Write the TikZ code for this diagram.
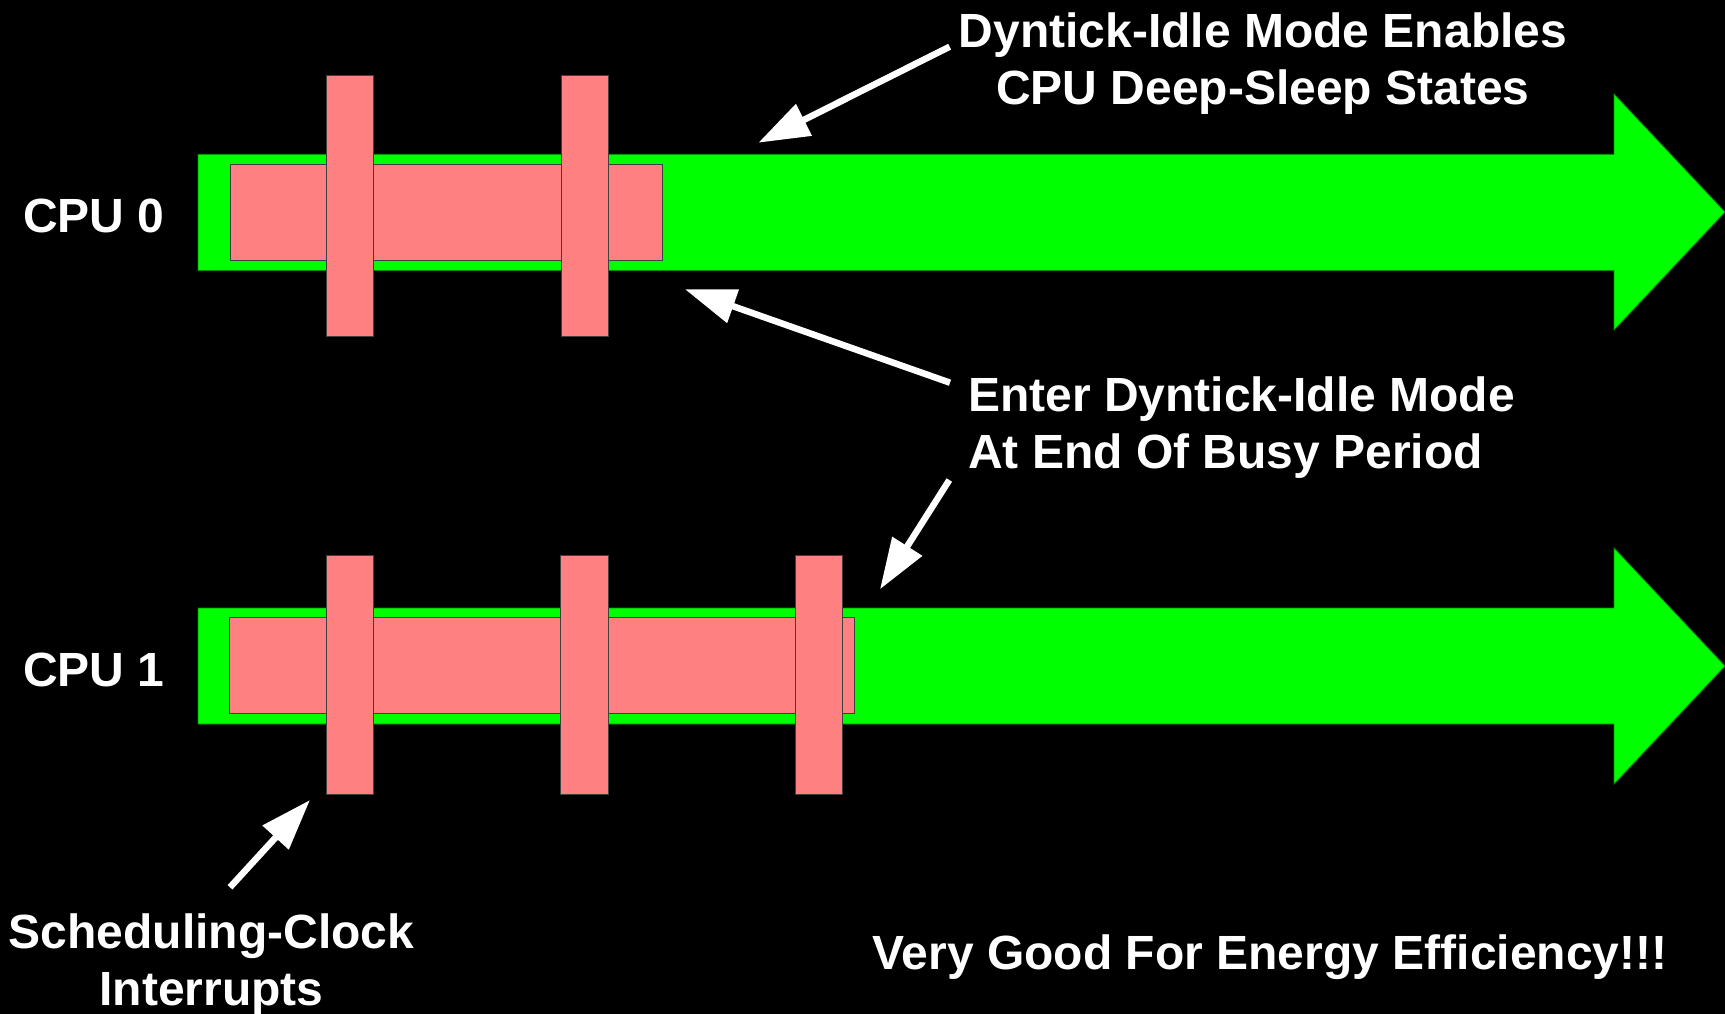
\documentclass[tikz,border=0pt]{standalone}
\usepackage{fontspec}
\setmainfont{Liberation Sans}
\usetikzlibrary{arrows.meta}
\definecolor{busyred}{HTML}{FF8080}
\definecolor{idlegreen}{HTML}{00FF00}
\begin{document}
\begin{tikzpicture}[x=1pt,y=-1pt,
  band/.style={fill=idlegreen, draw=idlegreen!55!black, line width=0.8pt},
  busy/.style={fill=busyred, draw=black!75, line width=0.8pt},
  lbl/.style={text=white, font=\fontsize{48}{57}\selectfont\bfseries, inner sep=0pt},
  pointer/.style={draw=white, line width=6.5pt, -{Triangle[length=51pt,width=34pt]}},
]
\fill[black] (0,0) rectangle (1725,1014);
\useasboundingbox (0,0) rectangle (1725,1014);

% CPU 0 timeline
\draw[band] (198,154.3) -- (1614,154.3) -- (1614,94) -- (1725,212) -- (1614,330) -- (1614,270.5) -- (198,270.5) -- cycle;
\draw[busy] (230,164.3) rectangle (662,260.3);
\draw[busy] (326.3,75.3) rectangle (373.7,336.7);
\draw[busy] (561,75.3) rectangle (608,336.7);

% CPU 1 timeline
\draw[band] (198,608) -- (1614,608) -- (1614,548) -- (1725,666) -- (1614,784) -- (1614,724) -- (198,724) -- cycle;
\draw[busy] (229.6,617.7) rectangle (854,713.7);
\draw[busy] (326.4,555.3) rectangle (373.3,794.3);
\draw[busy] (560.4,555.3) rectangle (608,794.3);
\draw[busy] (795,555.3) rectangle (842,794.3);

% labels (base anchor = baseline of the last line)
\node[lbl, anchor=base west] (cpu0) at (23,232.7) {CPU 0};
\node[lbl, anchor=base west] (cpu1) at (23,686.7) {CPU 1};
\node[lbl, align=center, anchor=base] (deep) at (1263,104.5) {Dyntick-Idle Mode Enables\\CPU Deep-Sleep States};
\node[lbl, align=left, anchor=base west] (enter) at (968,468.5) {Enter Dyntick-Idle Mode\\At End Of Busy Period};
\node[lbl, align=center, anchor=base] (sched) at (211.5,1005) {Scheduling-Clock\\Interrupts};
\node[lbl, anchor=base] (good) at (1270,969) {Very Good For Energy Efficiency!!!};

% pointers
\coordinate (a1s) at (949.7,46.7);  \coordinate (a1e) at (758.4,142.7);
\coordinate (a2s) at (950,382.7);   \coordinate (a2e) at (685,289.3);
\coordinate (a3s) at (949.3,480);   \coordinate (a3e) at (880,589.3);
\coordinate (a4s) at (230,887.3);   \coordinate (a4e) at (310,800);
\draw[pointer] (a1s) -- (a1e);
\draw[pointer] (a2s) -- (a2e);
\draw[pointer] (a3s) -- (a3e);
\draw[pointer] (a4s) -- (a4e);
\end{tikzpicture}
\end{document}
